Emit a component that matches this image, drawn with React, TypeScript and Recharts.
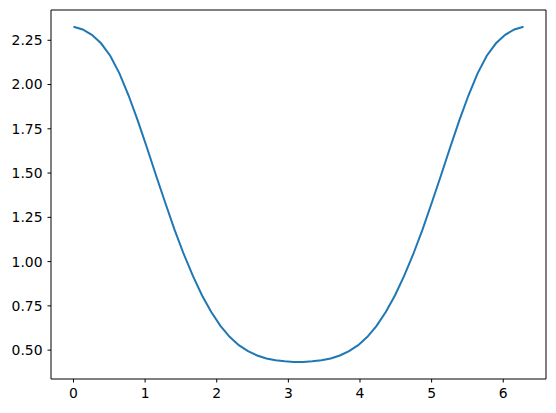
import { LineChart, Line, XAxis, YAxis } from 'recharts';

// x sampled at 50 even steps over [0, 2π]
const xValues = Array.from({ length: 50 }, (_, i) => (i * 2 * Math.PI) / 49);

// values (first half, the curve is mirrored about π)
const yFirstHalf = [
  2.326, 2.311, 2.281, 2.233, 2.163, 2.063, 1.938, 1.796, 1.643, 1.485,
  1.331, 1.181, 1.043, 0.919, 0.809, 0.715, 0.637, 0.575, 0.528, 0.494,
  0.47, 0.453, 0.443, 0.437, 0.433,
];
const yValues = [...yFirstHalf, ...[...yFirstHalf].reverse()];

const xTicks = [0, 1, 2, 3, 4, 5, 6];
const yTicks = [0.5, 0.75, 1.0, 1.25, 1.5, 1.75, 2.0, 2.25];

const data = xValues.map((x, i) => ({ x, y: yValues[i] }));

const xDomain = [-0.314, 6.597];
const yDomain = [0.337, 2.421];

const tickFont = { fontFamily: 'DejaVu Sans', fontSize: 13.9, fill: '#000' };

export default function App() {
  return (
    <div style={{ position: 'absolute', left: 0, top: 0, background: '#fff' }}>
      <LineChart width={556} height={413} data={data} margin={{ top: 9, right: 9, bottom: 0, left: 0 }}>
        <XAxis
          dataKey="x"
          type="number"
          domain={xDomain}
          ticks={xTicks}
          allowDataOverflow
          height={34}
          stroke="#000"
          tickSize={3.5}
          tickMargin={6}
          tick={tickFont}
          tickLine={{ stroke: '#000' }}
        />
        <XAxis xAxisId="top" orientation="top" dataKey="x" type="number" domain={xDomain}
          allowDataOverflow height={1} tick={false} tickLine={false} stroke="#000" />
        <YAxis
          type="number"
          domain={yDomain}
          ticks={yTicks}
          allowDataOverflow
          width={51}
          stroke="#000"
          tickSize={3.5}
          tickMargin={5}
          tick={tickFont}
          tickLine={{ stroke: '#000' }}
          tickFormatter={(v: number) => v.toFixed(2)}
        />
        <YAxis yAxisId="right" orientation="right" type="number" domain={yDomain} allowDataOverflow
          width={1} tick={false} tickLine={false} stroke="#000" />
        <Line
          type="linear"
          dataKey="y"
          stroke="#1f77b4"
          strokeWidth={2}
          dot={false}
          isAnimationActive={false}
        />
      </LineChart>
    </div>
  );
}
